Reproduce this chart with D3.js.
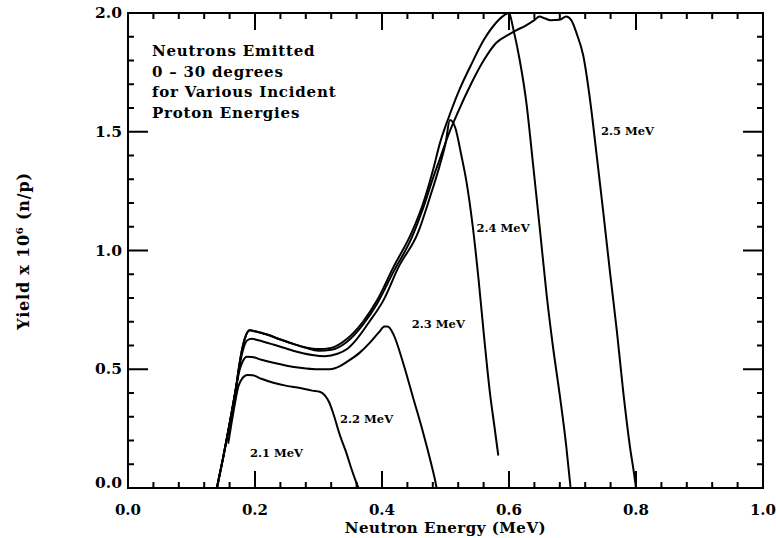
<!DOCTYPE html>
<html><head><meta charset="utf-8">
<script src="https://cdn.jsdelivr.net/npm/d3@7"></script>
<style>
body{margin:0;background:#fff}
text{font-family:"DejaVu Serif",serif;font-weight:bold;fill:#000}
</style>
</head><body>
<svg id="chart" width="776" height="538"></svg>
<script>
// ---- data ----
const xMajorTicks = [0, 0.2, 0.4, 0.6, 0.8, 1.0];
const xTickLabels = ["0.0", "0.2", "0.4", "0.6", "0.8", "1.0"];
const yMajorTicks = [0, 0.5, 1.0, 1.5, 2.0];
const yTickLabels = ["0.0", "0.5", "1.0", "1.5", "2.0"];
const xMinorTicks = [0.04,0.08,0.12,0.16,0.24,0.28,0.32,0.36,0.44,0.48,0.52,0.56,0.64,0.68,0.72,0.76,0.84,0.88,0.92,0.96];
const yMinorTicks = [0.1,0.2,0.3,0.4,0.6,0.7,0.8,0.9,1.1,1.2,1.3,1.4,1.6,1.7,1.8,1.9];

const seriesNames = ["2.1 MeV", "2.2 MeV", "2.3 MeV", "2.4 MeV", "2.5 MeV"];
const yield21 = [[0.158,0.19],[0.166,0.32],[0.174,0.43],[0.18,0.462],[0.188,0.476],[0.196,0.475],[0.21,0.46],[0.229,0.443],[0.25,0.43],[0.271,0.421],[0.29,0.41],[0.302,0.405],[0.31,0.39],[0.317,0.36],[0.323,0.316],[0.334,0.22],[0.344,0.147],[0.352,0.08],[0.359,0.027],[0.363,0]];
const yield22 = [[0.14,0],[0.15,0.13],[0.16,0.27],[0.17,0.42],[0.176,0.5],[0.181,0.535],[0.187,0.553],[0.195,0.552],[0.21,0.54],[0.229,0.527],[0.25,0.515],[0.271,0.506],[0.295,0.5],[0.318,0.5],[0.333,0.512],[0.344,0.53],[0.365,0.57],[0.381,0.612],[0.395,0.655],[0.404,0.68],[0.409,0.68],[0.418,0.647],[0.434,0.52],[0.449,0.38],[0.465,0.231],[0.476,0.118],[0.483,0.04],[0.486,0]];
const yield23 = [[0.14,0],[0.15,0.13],[0.16,0.27],[0.17,0.42],[0.176,0.52],[0.182,0.59],[0.188,0.622],[0.195,0.628],[0.205,0.622],[0.23,0.603],[0.26,0.578],[0.29,0.56],[0.31,0.555],[0.33,0.565],[0.345,0.585],[0.36,0.626],[0.38,0.7],[0.402,0.789],[0.426,0.93],[0.457,1.077],[0.475,1.22],[0.491,1.359],[0.5,1.45],[0.507,1.549],[0.515,1.52],[0.525,1.4],[0.533,1.29],[0.543,1.10],[0.552,0.88],[0.561,0.63],[0.57,0.40],[0.577,0.26],[0.583,0.14]];
const yield24 = [[0.14,0],[0.15,0.13],[0.16,0.27],[0.17,0.42],[0.176,0.53],[0.181,0.6],[0.186,0.645],[0.192,0.664],[0.2,0.66],[0.22,0.645],[0.24,0.625],[0.26,0.607],[0.28,0.592],[0.3,0.585],[0.32,0.59],[0.344,0.626],[0.37,0.7],[0.392,0.789],[0.418,0.93],[0.447,1.077],[0.465,1.2],[0.481,1.345],[0.491,1.45],[0.505,1.56],[0.52,1.665],[0.54,1.78],[0.56,1.885],[0.58,1.96],[0.592,1.99],[0.6,2.0],[0.607,1.93],[0.617,1.8],[0.627,1.63],[0.638,1.36],[0.649,1.08],[0.659,0.82],[0.669,0.6],[0.68,0.39],[0.69,0.18],[0.697,0]];
const yield25 = [[0.14,0],[0.15,0.13],[0.16,0.27],[0.17,0.42],[0.176,0.53],[0.181,0.6],[0.186,0.645],[0.192,0.664],[0.2,0.66],[0.22,0.645],[0.24,0.625],[0.26,0.607],[0.28,0.59],[0.3,0.578],[0.32,0.582],[0.344,0.614],[0.37,0.688],[0.392,0.775],[0.418,0.91],[0.447,1.055],[0.465,1.18],[0.481,1.31],[0.491,1.385],[0.505,1.49],[0.52,1.585],[0.54,1.7],[0.56,1.8],[0.58,1.875],[0.6,1.91],[0.612,1.928],[0.625,1.945],[0.64,1.97],[0.648,1.985],[0.656,1.978],[0.665,1.97],[0.68,1.972],[0.69,1.985],[0.698,1.97],[0.707,1.91],[0.717,1.82],[0.728,1.627],[0.738,1.403],[0.749,1.149],[0.759,0.91],[0.77,0.657],[0.78,0.403],[0.791,0.164],[0.797,0.06],[0.8,0]];
const seriesData = [yield21, yield22, yield23, yield24, yield25];
// label anchor points in data units (energy, yield)
const labelPos = [[0.192,0.13],[0.334,0.275],[0.447,0.675],[0.549,1.08],[0.745,1.485]];
const noteLines = ["Neutrons Emitted", "0 \u2013 30 degrees", "for Various Incident", "Proton Energies"];

// ---- chart ----
const svg = d3.select("#chart");
const x = d3.scaleLinear().domain([0, 1]).range([128, 763]);
const y = d3.scaleLinear().domain([0, 2]).range([488, 13]);
const g = svg.append("g");

// frame
g.append("rect").attr("x", x(0)).attr("y", y(2)).attr("width", x(1) - x(0)).attr("height", y(0) - y(2))
  .attr("fill", "none").attr("stroke", "#000").attr("stroke-width", 2);

// ticks on all four sides, pointing inward (filled rects)
const xTicks = xMajorTicks.slice(1, -1).map(v => ({v: v, len: 17})).concat(xMinorTicks.map(v => ({v: v, len: 6})));
const yTicks = yMajorTicks.slice(1, -1).map(v => ({v: v, len: 20})).concat(yMinorTicks.map(v => ({v: v, len: 6})));
const tg = g.append("g").attr("class", "ticks");
tg.selectAll("rect.xb").data(xTicks).enter().append("rect").attr("class", "xb")
  .attr("x", d => x(d.v) - 1).attr("y", d => y(0) - d.len).attr("width", 2).attr("height", d => d.len).attr("fill", "#000");
tg.selectAll("rect.xt").data(xTicks).enter().append("rect").attr("class", "xt")
  .attr("x", d => x(d.v) - 1).attr("y", y(2)).attr("width", 2).attr("height", d => d.len).attr("fill", "#000");
tg.selectAll("rect.yl").data(yTicks).enter().append("rect").attr("class", "yl")
  .attr("x", x(0)).attr("y", d => y(d.v) - 1).attr("width", d => d.len).attr("height", 2).attr("fill", "#000");
tg.selectAll("rect.yr").data(yTicks).enter().append("rect").attr("class", "yr")
  .attr("x", d => x(1) - d.len).attr("y", d => y(d.v) - 1).attr("width", d => d.len).attr("height", 2).attr("fill", "#000");

// tick labels
g.selectAll("text.xl").data(xMajorTicks).enter().append("text").attr("class", "xl")
  .attr("x", d => x(d)).attr("y", y(0) + 27).attr("text-anchor", "middle")
  .style("font-size", "15px").text((d, i) => xTickLabels[i]);
g.selectAll("text.yl").data(yMajorTicks).enter().append("text").attr("class", "yl")
  .attr("x", x(0) - 6).attr("y", d => y(d) + 5 - (d === 0 ? 5 : 0)).attr("text-anchor", "end")
  .style("font-size", "15.5px").text((d, i) => yTickLabels[i]);

// axis titles
g.append("text").attr("x", (x(0) + x(1)) / 2).attr("y", 533).attr("text-anchor", "middle")
  .style("font-size", "15px").style("letter-spacing", "0.5px").text("Neutron Energy (MeV)");
const yt = g.append("text").attr("transform", "translate(29,251) rotate(-90)").attr("text-anchor", "middle")
  .style("font-size", "16px").style("letter-spacing", "0.8px");
yt.append("tspan").text("Yield x 10");
yt.append("tspan").attr("dy", -6).style("font-size", "10px").text("6");
yt.append("tspan").attr("dy", 6).text(" (n/p)");

// curves
const line = d3.line().x(d => x(d[0])).y(d => y(d[1])).curve(d3.curveMonotoneX);
g.selectAll("path.curve").data(seriesData).enter().append("path").attr("class", "curve")
  .attr("d", line).attr("fill", "none").attr("stroke", "#000").attr("stroke-width", 2)
  .attr("stroke-linejoin", "round").attr("stroke-linecap", "round");

// curve labels
g.selectAll("text.cl").data(labelPos).enter().append("text").attr("class", "cl")
  .attr("x", d => x(d[0])).attr("y", d => y(d[1]))
  .style("font-size", "11.5px").text((d, i) => seriesNames[i]);

// note
g.selectAll("text.note").data(noteLines).enter().append("text").attr("class", "note")
  .attr("x", 152).attr("y", (d, i) => 56 + i * 20.7)
  .style("font-size", "15px").style("letter-spacing", "0.8px").text(d => d);
</script>
</body></html>
